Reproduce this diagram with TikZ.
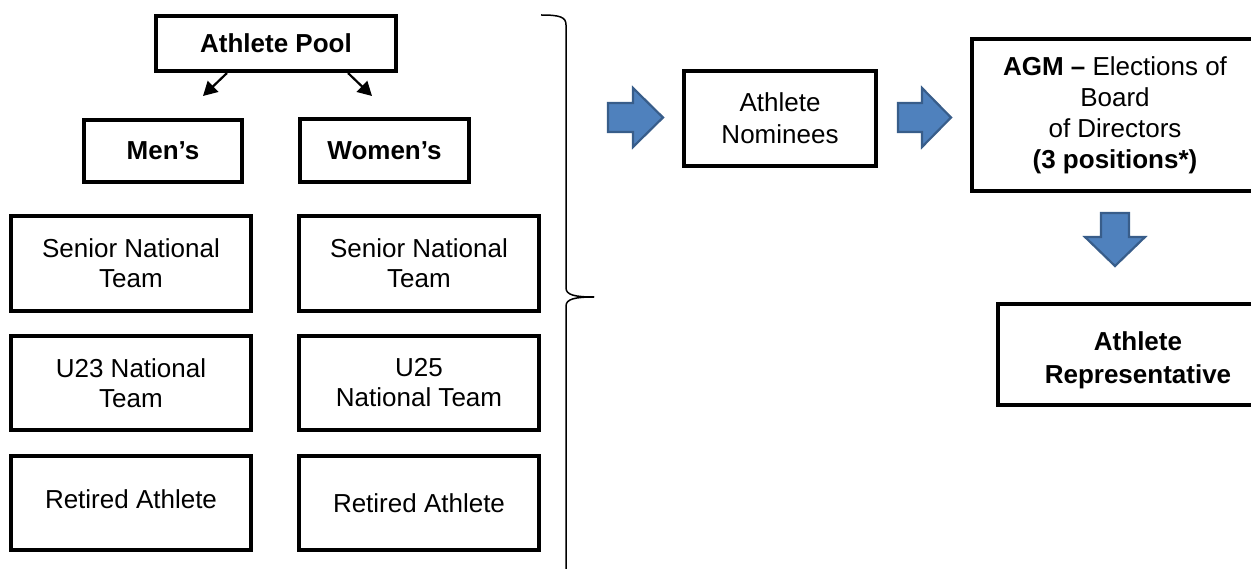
\documentclass[tikz,border=0pt]{standalone}
\usepackage{fontspec}
\setmainfont{Liberation Sans}
\usetikzlibrary{arrows.meta}
\begin{document}
\begin{tikzpicture}[x=1pt,y=-1pt,
  box/.style={draw=black, line width=3.6pt, rectangle, inner sep=0pt,
    align=center, font=\fontsize{26}{30}\selectfont},
  bluearrow/.style={fill={rgb,255:red,79;green,129;blue,189},
    draw={rgb,255:red,56;green,93;blue,138}, line width=2.2pt, line join=miter},
  thinarrow/.style={draw=black, line width=2.2pt,
    -{Triangle[length=14pt,width=15pt]}},
  bracket/.style={draw=black, line width=1.5pt}]
\useasboundingbox (0,0) rectangle (1251,569);
\clip (0,0) rectangle (1251,569);

% top of the athlete tree
\node[box, minimum width=240pt, minimum height=55pt] (pool) at (276,43.5) {\textbf{Athlete Pool}};
\node[box, minimum width=158pt, minimum height=62pt] (mens) at (163,151) {\textbf{Men’s}};
\node[box, minimum width=169pt, minimum height=63pt] (womens) at (384.5,150.5) {\textbf{Women’s}};

% men's column
\node[box, minimum width=240pt, minimum height=95pt] (sntm) at (131,263.5) {Senior National\\Team};
\node[box, minimum width=240pt, minimum height=94pt] (u23) at (131,383) {U23 National\\Team};
\node[box, minimum width=240pt, minimum height=94pt] (retm) at (131,503) {\raisebox{7pt}{Retired Athlete}};

% women's column
\node[box, minimum width=240pt, minimum height=95pt] (sntw) at (419,263.5) {Senior National\\Team};
\node[box, minimum width=240pt, minimum height=94pt] (u25) at (419,383) {U25\\National Team};
\node[box, minimum width=240pt, minimum height=94pt] (retw) at (419,503) {Retired Athlete};

% split arrows below the pool
\coordinate (pl) at (227,73);
\coordinate (pr) at (348,73);
\coordinate (ml) at (203,96);
\coordinate (mr) at (372,96);
\draw[thinarrow] (pl) -- (ml);
\draw[thinarrow] (pr) -- (mr);

% grouping brace
\coordinate (bt) at (541,15);
\coordinate (btip) at (594,297);
\coordinate (bb) at (566,575);
\draw[bracket] (bt) .. controls (560,15) and (566,17) .. (566,25)
  -- (566,288) .. controls (566,295) and (575,297) .. (btip);
\draw[bracket] (btip) .. controls (575,297) and (566,299) .. (566,306) -- (bb);

% process flow
\node[box, minimum width=192pt, minimum height=95pt,
  font=\fontsize{26}{32}\selectfont] (nom) at (780,118.5) {Athlete\\Nominees};
\node[box, minimum width=286pt, minimum height=152pt,
  font=\fontsize{26}{31}\selectfont] (agm) at (1115,115)
  {\textbf{AGM –} Elections of\\Board\\of Directors\\\textbf{(3 positions*)}};
\node[box, minimum width=280pt, minimum height=101pt,
  label={[font=\fontsize{26}{33}\selectfont\bfseries, align=center, yshift=-6pt]center:Athlete\\Representative}]
  (rep) at (1138,354.5) {};

% block arrows
\draw[bluearrow] (608,103) -- (633,103) -- (633,88) -- (663,117.5) -- (633,147)
  -- (633,132) -- (608,132) -- cycle;
\draw[bluearrow] (898,103) -- (922,103) -- (922,88) -- (951,117.5) -- (922,147)
  -- (922,132) -- (898,132) -- cycle;
\draw[bluearrow] (1101,213) -- (1129,213) -- (1129,237) -- (1145,237) -- (1115,266)
  -- (1085,237) -- (1101,237) -- cycle;
\end{tikzpicture}
\end{document}
